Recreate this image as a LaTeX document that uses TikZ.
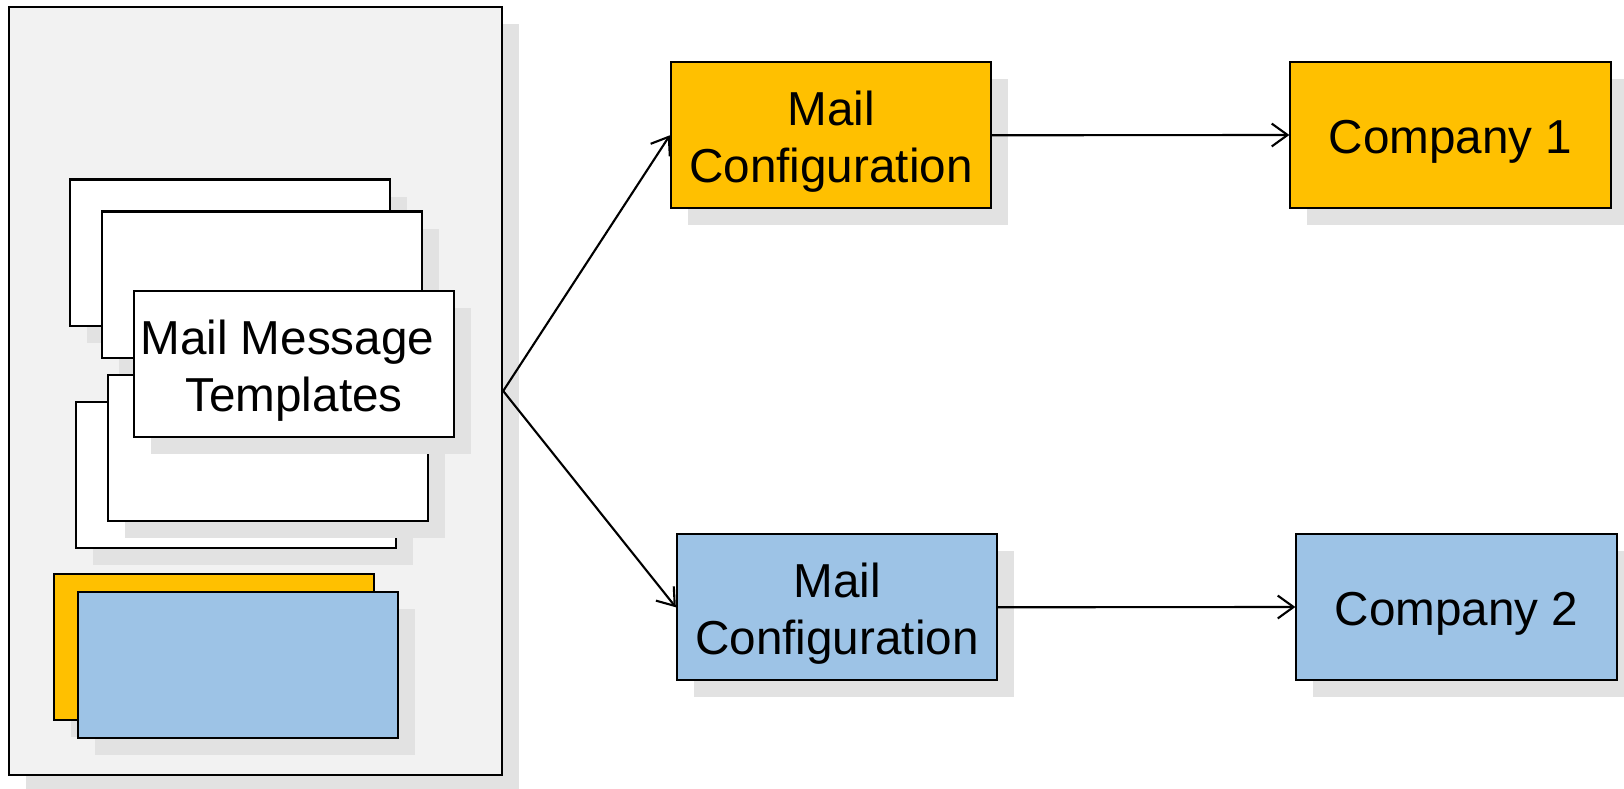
\documentclass[tikz,border=0pt]{standalone}
\usepackage{fontspec}
\setmainfont{Liberation Sans}
\usetikzlibrary{arrows.meta,shadows}
\definecolor{cfgyellow}{HTML}{FFC000}
\definecolor{cfgblue}{HTML}{9DC3E6}
\definecolor{panelgray}{HTML}{F2F2F2}
\definecolor{shadowgray}{HTML}{E2E2E2}
\tikzset{
    boxshadow/.style={drop shadow={shadow xshift=0.17cm, shadow yshift=-0.17cm, fill=shadowgray, opacity=1}},
    card/.style={draw, line width=0.6pt, fill=white, boxshadow, inner sep=0pt,
        minimum width=3.2cm, minimum height=1.46cm, align=center, text height=13.5pt,
        font=\fontsize{13.55}{16.2}\selectfont},
    twolines/.style={text height=29.6pt},
}
\begin{document}
\begin{tikzpicture}[x=0.01cm, y=-0.01cm, >={Straight Barb[length=4.5pt,width=6.5pt]}]
            \useasboundingbox (0, 0) rectangle (1624, 789);
            \node (panel) at (255.5, 391) [draw, line width=0.6pt, fill=panelgray, boxshadow, minimum width=4.93cm, minimum height=7.68cm] {};

            \scoped{
                \node (tplA) at (230, 252.6) [card] {};
                \node (tplB) at (262, 284.6) [card] {};
                \node (tplD) at (236.2, 474.8) [card] {};
                \node (tplE) at (268.2, 448.4) [card] {};
                \node (tplC) at (294, 364.4) [card, twolines] {Mail Message\hspace*{0.278em}\\Templates};
                \node (cfgbackA) at (214.2, 646.7) [card, fill=cfgyellow] {};
                \node (cfgbackB) at (238.3, 664.8) [card, fill=cfgblue] {};
            };

            \node (config1) at (831, 135.3) [card, twolines, fill=cfgyellow] {Mail\\Configuration};
            \node (config2) at (837, 607.3) [card, twolines, fill=cfgblue] {Mail\\Configuration};
            \node (company1) at (1450.5, 135) [card, fill=cfgyellow] {Company 1};
            \node (company2) at (1456.5, 607) [card, fill=cfgblue] {Company 2};

            \draw[->, line width=0.6pt] (panel.east) -- (config1.west);
            \draw[->, line width=0.6pt] (panel.east) -- (config2.west);
            \draw[->, line width=0.6pt] (config1.east) -- (company1.west);
            \draw[->, line width=0.6pt] (config2.east) -- (company2.west);
        \end{tikzpicture}
\end{document}
